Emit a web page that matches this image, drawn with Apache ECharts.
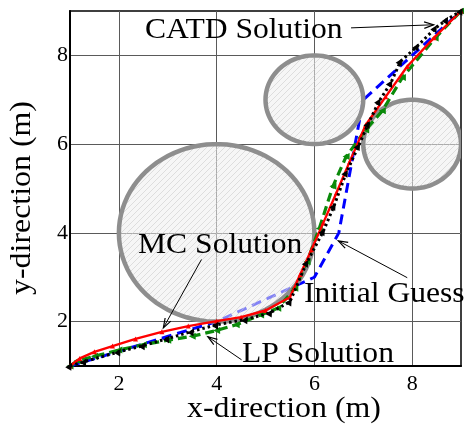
<!DOCTYPE html>
<html>
<head>
<meta charset="utf-8">
<script src="https://cdn.jsdelivr.net/npm/echarts@6/dist/echarts.min.js"></script>
<style>
  html, body { margin: 0; padding: 0; background: #fff; }
  #chart { width: 464px; height: 426px; }
</style>
</head>
<body>
<div id="chart"></div>
<script>
// Axis range and labelled ticks
const axisMin = 1;
const axisMax = 9;
const labelledTicks = [2, 4, 6, 8];

// Circular obstacles: centre and radius (m)
const obstacleCenters = [[4, 4], [6, 7], [8, 6]];
const obstacleRadii = [2, 1, 1];

// Trajectories, [x, y] in metres
const initialGuess = [[1, 1], [4, 2], [6, 3], [6.5, 4], [7, 7], [9, 9]];

const mcSolution = [
  [1, 1], [1.2, 1.17], [1.5, 1.32], [1.87, 1.45], [2.34, 1.61], [2.88, 1.77],
  [3.42, 1.9], [4.0, 2.01], [4.5, 2.1], [5.0, 2.25], [5.5, 2.55], [5.71, 3.06],
  [5.94, 3.62], [6.18, 4.22], [6.45, 4.9], [6.72, 5.6], [7.05, 6.43], [7.46, 7.07],
  [7.9, 7.75], [8.45, 8.4], [9, 9]
];

const lpSolution = [
  [1, 1], [1.15, 1.12], [1.5, 1.22], [2, 1.36], [2.5, 1.48], [3, 1.58],
  [3.5, 1.67], [4, 1.8], [4.4, 1.93], [4.9, 2.15], [5.25, 2.3], [5.6, 2.75],
  [5.85, 3.35], [6.1, 4.1], [6.38, 5.05], [6.65, 5.72], [7.05, 6.32], [7.39, 6.75],
  [7.8, 7.5], [8.47, 8.39], [9, 9]
];

const catdSolution = [
  [1, 1], [1.3, 1.1], [2, 1.32], [2.5, 1.46], [3, 1.62], [3.5, 1.78],
  [4, 1.93], [4.6, 2.05], [5.1, 2.2], [5.5, 2.45], [5.84, 3.32], [6.18, 4.03],
  [6.4, 4.6], [6.65, 5.35], [6.9, 5.95], [7.1, 6.45], [7.32, 6.96], [7.56, 7.37],
  [7.76, 7.86], [8.1, 8.2], [8.47, 8.61], [8.7, 8.8], [9, 9]
];

// Annotation labels and the arrows (tail -> head, data units) that point at each path
const annotationTexts = ['CATD Solution', 'MC Solution', 'Initial Guess', 'LP Solution'];
const annotationArrows = [
  [[6.75, 8.62], [8.44, 8.69]],
  [[3.69, 3.40], [2.91, 1.86]],
  [[7.90, 2.99], [6.49, 3.82]],
  [[4.51, 1.14], [3.82, 1.66]]
];

const SERIF = '"Liberation Serif", "DejaVu Serif", serif';

// Faint diagonal hatching used to fill the obstacles
const hatch = document.createElement('canvas');
hatch.width = 6; hatch.height = 6;
(function () {
  const g = hatch.getContext('2d');
  g.fillStyle = 'rgba(238,238,238,0.55)';
  g.fillRect(0, 0, 6, 6);
  g.strokeStyle = 'rgba(200,200,200,0.55)';
  g.lineWidth = 1;
  g.beginPath();
  g.moveTo(0, 6); g.lineTo(6, 0);
  g.moveTo(-1, 1); g.lineTo(1, -1);
  g.moveTo(5, 7); g.lineTo(7, 5);
  g.stroke();
})();

const obstacleData = obstacleCenters.map((c, i) => [c[0], c[1], obstacleRadii[i]]);

function renderObstacle(params, api) {
  const cx = api.value(0), cy = api.value(1), r = api.value(2);
  const pts = [];
  const n = 90;
  for (let k = 0; k < n; k++) {
    const t = (k / n) * Math.PI * 2;
    pts.push(api.coord([cx + r * Math.cos(t), cy + r * Math.sin(t)]));
  }
  return {
    type: 'polygon',
    shape: { points: pts },
    style: {
      fill: { image: hatch, repeat: 'repeat' },
      stroke: '#8e8e8e',
      lineWidth: 4.5
    }
  };
}

const gridColors = ['rgba(0,0,0,0)', '#5a5a5a'];

function axisCommon() {
  return {
    type: 'value',
    min: axisMin,
    max: axisMax,
    interval: 1,
    axisLine: { show: true, onZero: false, lineStyle: { color: '#000', width: 2 } },
    axisTick: { show: false },
    splitLine: { show: true, lineStyle: { color: gridColors, width: 1 } },
    axisLabel: {
      color: '#000',
      fontFamily: SERIF,
      fontSize: 22,
      formatter: v => (labelledTicks.indexOf(v) >= 0 ? String(v) : '')
    }
  };
}

const xAxis = axisCommon();
xAxis.axisLabel.margin = 7;
const yAxis = axisCommon();
yAxis.axisLabel.margin = 2;

function pathSeries(name, data, color, lineType, width, symbol, symbolSize, rotate, z) {
  return {
    name: name,
    type: 'line',
    data: data,
    z: z,
    symbol: symbol,
    symbolSize: symbolSize,
    symbolRotate: rotate,
    showSymbol: symbol !== 'none',
    clip: true,
    lineStyle: { color: color, width: width, type: lineType, cap: 'butt' },
    itemStyle: { color: color, borderWidth: 0 },
    emphasis: { disabled: true }
  };
}

const chart = echarts.init(document.getElementById('chart'), null, { renderer: 'canvas' });

chart.setOption({
  animation: false,
  backgroundColor: '#fff',
  grid: {
    left: 70, top: 11, width: 395, height: 355,
    show: true, borderColor: '#000', borderWidth: 1.5, backgroundColor: 'transparent'
  },
  xAxis: xAxis,
  yAxis: yAxis,
  series: [
    pathSeries('Initial Guess', initialGuess, '#0000ff', [10, 6], 3, 'none', 0, 0, 1),
    {
      name: 'Obstacles',
      type: 'custom',
      data: obstacleData,
      encode: { x: 0, y: 1 },
      renderItem: renderObstacle,
      clip: true,
      z: 2,
      silent: true
    },
    pathSeries('LP Solution', lpSolution, '#0a8a0a', [9, 5], 3.2, 'triangle', 7, 90, 3),
    pathSeries('MC Solution', mcSolution, '#ff0000', 'solid', 2.4, 'triangle', 5, 0, 4),
    pathSeries('CATD Solution', catdSolution, '#000000', [2.5, 3], 3, 'triangle', 7, -30, 5)
  ]
});

// Annotations: labels and arrows pointing at the paths
const toPx = p => chart.convertToPixel({ xAxisIndex: 0, yAxisIndex: 0 }, p);
const textPos = [[145, 30], [138, 245], [304, 294], [242, 354]];
const elements = [];

annotationTexts.forEach((t, i) => {
  elements.push({
    type: 'text',
    x: textPos[i][0], y: textPos[i][1],
    scaleX: 1.09,
    z: 20,
    style: {
      text: t, font: '29px ' + SERIF, fill: '#000',
      textAlign: 'left', align: 'left', textVerticalAlign: 'middle', verticalAlign: 'middle'
    }
  });
});

annotationArrows.forEach(([from, to]) => {
  const a = toPx(from), b = toPx(to);
  const ang = Math.atan2(b[1] - a[1], b[0] - a[0]);
  const L = 10, w = 0.33;
  elements.push({
    type: 'line', z: 20,
    shape: { x1: a[0], y1: a[1], x2: b[0], y2: b[1] },
    style: { stroke: '#000', lineWidth: 1 }
  });
  elements.push({
    type: 'polyline', z: 20,
    shape: { points: [
      [b[0] - L * Math.cos(ang - w), b[1] - L * Math.sin(ang - w)],
      b,
      [b[0] - L * Math.cos(ang + w), b[1] - L * Math.sin(ang + w)]
    ] },
    style: { stroke: '#000', fill: null, lineWidth: 1.2 }
  });
});

// Axis titles
elements.push({
  type: 'text', x: 284, y: 409, scaleX: 1.1, z: 20,
  style: {
    text: 'x-direction (m)', font: '29px ' + SERIF, fill: '#000',
    textAlign: 'center', align: 'center', textVerticalAlign: 'middle', verticalAlign: 'middle'
  }
});
elements.push({
  type: 'text', x: 22, y: 198, rotation: Math.PI / 2, scaleX: 1.1, z: 20,
  style: {
    text: 'y-direction (m)', font: '29px ' + SERIF, fill: '#000',
    textAlign: 'center', align: 'center', textVerticalAlign: 'middle', verticalAlign: 'middle'
  }
});

chart.setOption({ graphic: { elements: elements } });
</script>
</body>
</html>
